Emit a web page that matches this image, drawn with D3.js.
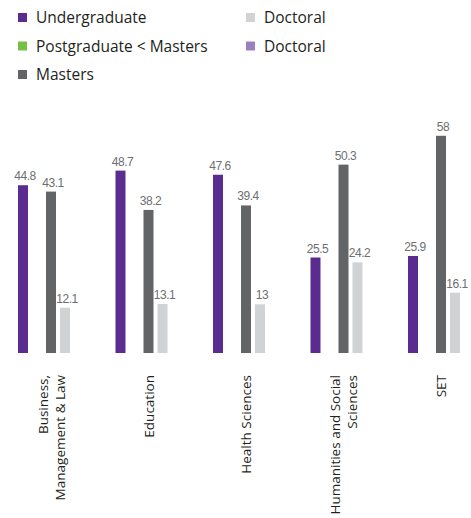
<!DOCTYPE html>
<html>
<head>
<meta charset="utf-8">
<script src="https://cdn.jsdelivr.net/npm/d3@7"></script>
<style>
  body { margin: 0; background: #fff; }
  svg { display: block; }
</style>
</head>
<body>
<svg width="471" height="518"></svg>
<script>
const categories = ['Business, Management & Law', 'Education', 'Health Sciences', 'Humanities and Social Sciences', 'SET'];
const categoryLines = [['Business,', 'Management & Law'], ['Education'], ['Health Sciences'], ['Humanities and Social', 'Sciences'], ['SET']];

const seriesKeys = ['ug', 'pgm', 'masters', 'doctoral', 'doctoral2'];
const seriesNames = ['Undergraduate', 'Postgraduate < Masters', 'Masters', 'Doctoral', 'Doctoral'];
const seriesColors = ['#5b2c8f', '#76c043', '#636466', '#d1d2d4', '#9b80c0'];

const undergraduate = [44.8, 48.7, 47.6, 25.5, 25.9];
const postgradBelowMasters = [null, null, null, null, null];
const masters = [43.1, 38.2, 39.4, 50.3, 58];
const doctoral = [12.1, 13.1, 13, 24.2, 16.1];
const doctoralOther = [null, null, null, null, null];

const seriesValues = [undergraduate, postgradBelowMasters, masters, doctoral, doctoralOther];

const svg = d3.select('svg');
const width = +svg.attr('width');

var margin = {left: 18, baseline: 353};

var x0 = d3.scaleBand()
    .domain(categories)
    .range([margin.left, margin.left + 5 * 97.5]);

var x1 = d3.scaleBand()
    .domain(seriesKeys)
    .range([0, 66])
    .paddingInner(4 / 14);

var y = d3.scaleLinear()
    .domain([0, 60])
    .range([margin.baseline, margin.baseline - 224.7]);

var color = d3.scaleOrdinal().domain(seriesKeys).range(seriesColors);

// flatten for drawing
var bars = [];
categories.forEach(function (c, i) {
    seriesKeys.forEach(function (k, j) {
        if (seriesValues[j][i] != null) bars.push({cat: c, key: k, value: seriesValues[j][i]});
    });
});

const chart = svg.append('g');

chart.selectAll('rect.bar')
    .data(bars)
    .enter()
    .append('rect')
    .attr('class', 'bar')
    .attr('x', d => x0(d.cat) + x1(d.key))
    .attr('y', d => y(d.value))
    .attr('width', x1.bandwidth())
    .attr('height', d => y(0) - y(d.value))
    .attr('fill', d => color(d.key));

chart.selectAll('text.value')
    .data(bars)
    .enter()
    .append('text')
    .attr('class', 'value')
    .attr('x', d => x0(d.cat) + x1(d.key) + x1.bandwidth() / 2 + 2)
    .attr('y', d => y(d.value) - 5)
    .attr('text-anchor', 'middle')
    .style('font-family', '"Liberation Sans", Arial, sans-serif')
    .style('font-size', '12px')
    .style('letter-spacing', '-0.5px')
    .style('fill', '#6d6e70')
    .text(d => d.value);

//-----------------------------------------CATEGORY LABELS-----------------------------------------//

var catLabel = svg.selectAll('g.cat')
    .data(categories)
    .enter()
    .append('g')
    .attr('class', 'cat')
    .attr('transform', d => `translate(${x0(d) + 33},375) rotate(-90)`);

catLabel.each(function (d, i) {
    var lines = categoryLines[i];
    var n = lines.length;
    var t = d3.select(this).append('text')
        .attr('text-anchor', 'end')
        .style('font-family', '"Open Sans", sans-serif')
        .style('font-size', '13.5px')
        .style('fill', '#231f20');
    lines.forEach(function (line, k) {
        t.append('tspan')
            .attr('x', 0)
            .attr('y', (k - (n - 1) / 2) * 17 + 5)
            .text(line);
    });
});

//-----------------------------------------LEGEND-----------------------------------------//

var legend = svg.selectAll('g.legend')
    .data(seriesKeys)
    .enter()
    .append('g')
    .attr('class', 'legend')
    .attr('transform', (d, i) => `translate(${i < 3 ? 18 : 246},${(i % 3) * 28.5 + 13})`);

legend.append('rect')
    .attr('width', 9)
    .attr('height', 9)
    .attr('fill', d => color(d));

legend.append('text')
    .attr('x', 18)
    .attr('y', 10)
    .style('font-family', '"Open Sans", sans-serif')
    .style('font-size', '15.5px')
    .style('fill', '#231f20')
    .text((d, i) => seriesNames[i]);
</script>
</body>
</html>
